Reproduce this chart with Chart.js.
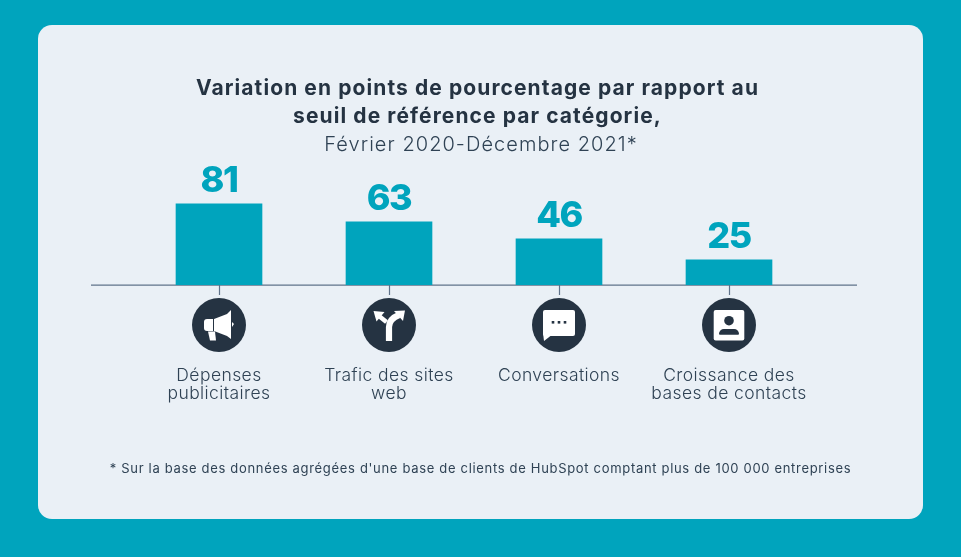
<!DOCTYPE html>
<html lang="fr"><head><meta charset="utf-8">
<script src="https://cdn.jsdelivr.net/npm/chart.js@4/dist/chart.umd.min.js"></script>
<style>
html,body{margin:0;padding:0;width:961px;height:557px;overflow:hidden;background:#00A4BD}
#card{position:absolute;left:38px;top:25px;width:885px;height:494px;border-radius:14px;background:#EAF0F6}
#wrap{position:absolute;left:0;top:0;width:961px;height:557px}
#note{position:absolute;left:0;width:961px;top:459px;text-align:center;font:13px/18px Inter,sans-serif;letter-spacing:.68px;color:#2F4254;white-space:nowrap}
</style></head><body>
<div id="card"></div>
<div id="wrap"><canvas id="c" width="961" height="557"></canvas></div>
<div id="note"></div>
<script>
const titleLines = ['Variation en points de pourcentage par rapport au', 'seuil de référence par catégorie,'];
const subtitleText = 'Février 2020-Décembre 2021*';
const footnote = "* Sur la base des données agrégées d'une base de clients de HubSpot comptant plus de 100 000 entreprises";
const categories = [['Dépenses', 'publicitaires'], ['Trafic des sites', 'web'], ['Conversations'], ['Croissance des', 'bases de contacts']];
const values = [81, 63, 46, 25];
const iconNames = ['megaphone', 'fork', 'bubble', 'contact'];

const TEAL = '#00A4BD', NAVY = '#253342', LINE = '#5F738A', TEXT = '#2F4254', FONT = 'Inter, sans-serif';
document.getElementById('note').textContent = footnote;

function poly(ctx, pts) { ctx.beginPath(); pts.forEach((p, i) => i ? ctx.lineTo(p[0], p[1]) : ctx.moveTo(p[0], p[1])); ctx.closePath(); ctx.fill(); }
const icons = {
  megaphone(ctx) {
    ctx.beginPath(); ctx.roundRect(-15, -6, 9, 12, [3, 0, 0, 3]); ctx.fill();
    poly(ctx, [[-5, -6], [8, -11], [12, -15], [12, 14], [8, 11], [-5, 6]]);
    poly(ctx, [[13, -3], [15, -1], [13, 2]]);
    poly(ctx, [[-11, 6.5], [-4, 6.5], [-3, 15.5], [-9, 15.5]]);
  },
  fork(ctx) {
    ctx.strokeStyle = '#fff'; ctx.lineWidth = 6.2; ctx.lineCap = 'butt';
    ctx.beginPath(); ctx.moveTo(0, 16); ctx.lineTo(0, 2); ctx.quadraticCurveTo(0, -6, 10, -10); ctx.stroke();
    ctx.lineWidth = 4.5;
    ctx.beginPath(); ctx.moveTo(-2.5, -3); ctx.lineTo(-10, -9); ctx.stroke();
    poly(ctx, [[16, -14.5], [5, -14], [14, -4]]);
    poly(ctx, [[-15.5, -14], [-4.5, -13], [-12.5, -3.5]]);
  },
  bubble(ctx) {
    ctx.beginPath(); ctx.roundRect(-16, -15, 32, 26, 2); ctx.fill();
    poly(ctx, [[-16, 8], [-15, 16], [-6, 9]]);
    ctx.fillStyle = NAVY;
    [-6, 0, 6].forEach(x => ctx.fillRect(x - 1.3, -4, 2.6, 2.6));
  },
  contact(ctx) {
    ctx.beginPath(); ctx.roundRect(-15.3, -15, 30.6, 30.6, 2); ctx.fill();
    ctx.fillStyle = NAVY;
    ctx.beginPath(); ctx.arc(0, -4.3, 4.8, 0, Math.PI * 2); ctx.fill();
    ctx.beginPath(); ctx.roundRect(-10, 4, 20, 5.8, [5, 5, 1, 1]); ctx.fill();
  }
};

function spaced(obj, method, ctx, px, dx) {
  const orig = obj[method];
  obj[method] = function (...a) {
    ctx.save();
    ctx.letterSpacing = px;
    ctx.translate(dx, 0);
    const r = orig.apply(this, a);
    ctx.restore();
    return r;
  };
}

const decor = {
  id: 'decor',
  afterInit(chart) { chart.$spacingDone = false; },
  beforeDraw(chart) {
    if (chart.$spacingDone) return;
    chart.$spacingDone = true;
    const ctx = chart.ctx;
    chart.boxes.forEach(b => {
      if (b === chart.scales.x) spaced(b, 'drawLabels', ctx, '0.42px', 0);
      else if (b.options && b.options.text === subtitleText) spaced(b, 'draw', ctx, '1.05px', 7);
      else if (b.options && b.options.text === titleLines) spaced(b, 'draw', ctx, '1.09px', 3.5);
    });
  },
  beforeDatasetsDraw(chart) {
    const { ctx, scales: { y } } = chart;
    ctx.save();
    ctx.strokeStyle = LINE; ctx.lineWidth = 1.2;
    ctx.beginPath(); ctx.moveTo(91, y.getPixelForValue(0) + .2); ctx.lineTo(857, y.getPixelForValue(0) + .2); ctx.stroke();
    ctx.restore();
  },
  afterDatasetsDraw(chart) {
    const { ctx, scales: { x, y } } = chart;
    const meta = chart.getDatasetMeta(0);
    ctx.save();
    ctx.fillStyle = TEAL; ctx.font = '800 36px ' + FONT; ctx.textAlign = 'center'; ctx.textBaseline = 'alphabetic';
    ctx.letterSpacing = '-1.5px';
    meta.data.forEach((bar, i) => ctx.fillText(String(values[i]), bar.x, bar.y - 12));
    ctx.letterSpacing = '0px';
    const cy = y.getPixelForValue(0) + 40;
    iconNames.forEach((name, i) => {
      const cx = x.getPixelForValue(i);
      ctx.save();
      ctx.translate(cx, cy);
      ctx.fillStyle = NAVY; ctx.beginPath(); ctx.arc(0, 0, 27, 0, Math.PI * 2); ctx.fill();
      ctx.fillStyle = '#fff';
      icons[name](ctx);
      ctx.restore();
    });
    ctx.restore();
  }
};

new Chart(document.getElementById('c'), {
  type: 'bar',
  data: { labels: categories, datasets: [{ data: values, backgroundColor: TEAL, barThickness: 86, borderWidth: 0 }] },
  plugins: [decor],
  options: {
    responsive: false, animation: false,
    layout: { padding: { left: 134, right: 147, top: 0, bottom: 0 } },
    plugins: {
      legend: { display: false }, tooltip: { enabled: false },
      title: { display: true, text: titleLines, color: NAVY, font: { family: FONT, size: 21, weight: '700', lineHeight: 1.335 }, padding: { top: 75, bottom: 0 } },
      subtitle: { display: true, text: subtitleText, color: TEXT, font: { family: FONT, size: 20, weight: '300', lineHeight: 1.35 }, padding: { top: 0, bottom: 26.6 } }
    },
    scales: {
      x: {
        afterFit(s) { s.height = 272; },
        border: { display: false },
        grid: { offset: false, drawOnChartArea: false, drawTicks: true, tickLength: 10, tickColor: LINE, tickWidth: 1.2 },
        ticks: { color: TEXT, autoSkip: false, maxRotation: 0, minRotation: 0, padding: 72, font: { family: FONT, size: 17.5, weight: '300', lineHeight: 1.03 } }
      },
      y: { display: false, min: 0, max: 100 }
    }
  }
});
</script>
</body></html>
